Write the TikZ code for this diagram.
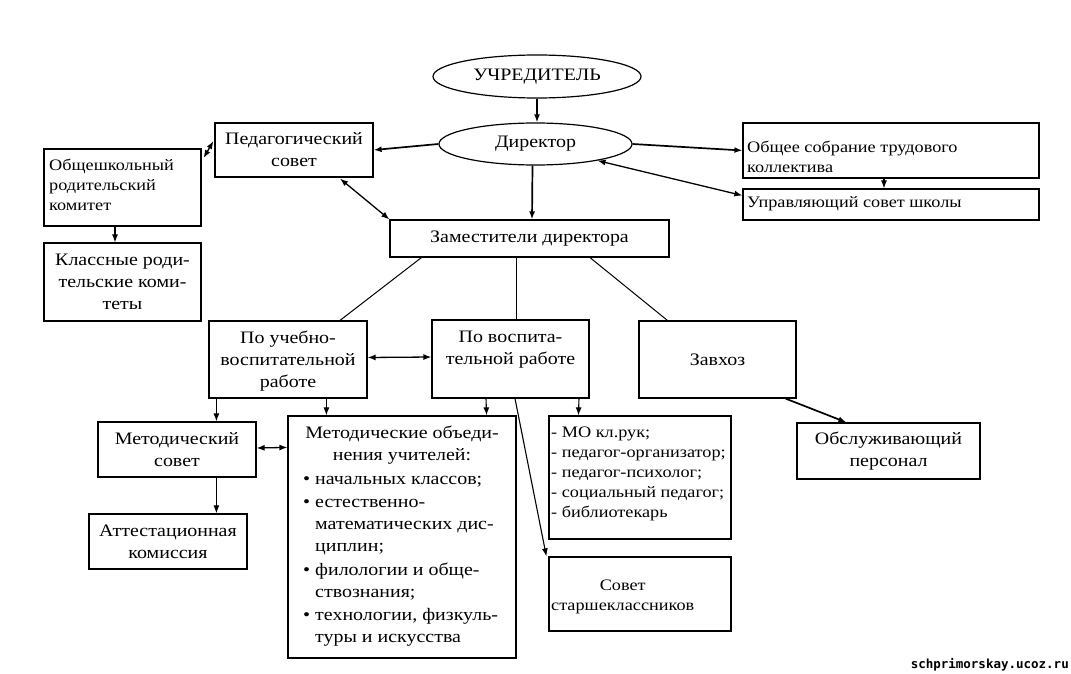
\documentclass[tikz,border=0pt]{standalone}
\usepackage{fontspec}
\setmainfont{Liberation Serif}[FakeStretch=1.14]
\newfontfamily\wmfont{DejaVu Sans Mono}
\usetikzlibrary{arrows.meta,calc,shapes.geometric}
\newcommand\dfont{\fontsize{17.5}{22}\selectfont}
\newcommand\lfont{\fontsize{16}{20}\selectfont}
\begin{document}
\begin{tikzpicture}[x=1pt,y=-1pt,
  box/.style={draw, line width=1.2pt, rectangle, inner sep=0pt, font=\dfont, align=center},
  ell/.style={draw, line width=1.2pt, ellipse, inner sep=0pt, font=\dfont},
  txt/.style={inner sep=0pt, font=\dfont},
  tip/.style={-{Latex[length=8pt,width=6pt]}},
  dtip/.style={{Latex[length=8pt,width=6pt]}-{Latex[length=8pt,width=6pt]}},
  thickarr/.style={tip, line width=1.7pt},
  thinarr/.style={tip, line width=1.1pt},
  dblarr/.style={dtip, line width=1.3pt},
  plain/.style={line width=1pt}]
\useasboundingbox (0,0) rectangle (1071,674);
\fill[white] (0,0) rectangle (1071,674);

% ellipses
\node[ell, minimum width=208, minimum height=43] (uch) at (537,76.5) {УЧРЕДИТЕЛЬ};
\node[ell, minimum width=193, minimum height=42] (dir) at (535.5,144) {Директор};

% upper boxes
\node[box, minimum width=158, minimum height=54] (ped) at (294,150) {Педагогический\\совет};
\node[box, minimum width=157, minimum height=77] (obsh) at (122.5,187.5) {};
\node[txt, anchor=west, align=left, font=\lfont] (obsht) at (49,185) {Общешкольный\\родительский\\комитет};
\node[box, minimum width=157, minimum height=78] (klass) at (122.5,282) {Классные роди-\\тельские коми-\\теты};
\node[box, minimum width=279, minimum height=37] (zam) at (529.5,238.5) {Заместители директора};
\node[box, minimum width=296, minimum height=55] (obsob) at (891,150.5) {};
\node[txt, anchor=west, align=left, font=\lfont] (obsobt) at (747,157) {Общее собрание трудового\\коллектива};
\node[box, minimum width=296, minimum height=31] (upr) at (891,204.5) {};
\node[txt, anchor=west, font=\lfont] (uprt) at (747,204) {Управляющий совет школы};

% middle row
\node[box, minimum width=158, minimum height=77] (pouch) at (288,359.5) {};
\node[txt, align=center] (poucht) at (288,361) {По учебно-\\воспитательной\\работе};
\node[box, minimum width=157, minimum height=78] (povos) at (510.5,359) {};
\node[txt, align=center] (povost) at (510.5,350) {По воспита-\\тельной работе};
\node[box, minimum width=157, minimum height=77] (zavhoz) at (717.5,359.5) {Завхоз};
\node[box, minimum width=183, minimum height=56] (obsl) at (888.5,451) {Обслуживающий\\персонал};

% lower boxes
\node[box, minimum width=158, minimum height=55] (metsov) at (177,449.5) {Методический\\совет};
\node[box, minimum width=158, minimum height=55] (attest) at (168,541.5) {Аттестационная\\комиссия};
\node[box, minimum width=228, minimum height=242] (metob) at (402,537) {};
\node[txt, align=center] (metobh) at (402,445) {Методические объеди-\\нения учителей:};
\node[txt, anchor=north west, align=left] (metobl) at (303,476) {%
\makebox[12pt][l]{\textbullet}начальных классов;\\[1.5pt]
\makebox[12pt][l]{\textbullet}естественно-\\
\hspace*{12pt}математических дис-\\
\hspace*{12pt}циплин;\\[1.5pt]
\makebox[12pt][l]{\textbullet}филологии и обще-\\
\hspace*{12pt}ствознания;\\[1.5pt]
\makebox[12pt][l]{\textbullet}технологии, физкуль-\\
\hspace*{12pt}туры и искусства};
\node[box, minimum width=182, minimum height=123] (mo) at (640,477.5) {};
\node[txt, anchor=north west, align=left, font=\lfont] (mot) at (551,427) {- МО кл.рук;\\- педагог-организатор;\\- педагог-психолог;\\- социальный педагог;\\- библиотекарь};
\node[box, minimum width=182, minimum height=74] (sovet) at (640,594) {};
\node[txt, anchor=west, align=center, font=\lfont] (sovett) at (551,597) {Совет\\старшеклассников};

% watermark
\node[inner sep=0pt, anchor=south east, font=\wmfont\bfseries\fontsize{12.5}{12.5}\selectfont] (wm) at (1069,671) {schprimorskay.ucoz.ru};

% connectors
\draw[thickarr] (uch.south) -- (uch.south |- dir.north);
\draw[thickarr] (dir.west) -- (ped.east);
\draw[thickarr] (dir.east) -- (obsob.west);
\draw[dblarr] (dir.-15) -- ($(upr.west)+(0,-9)$);
\draw[thinarr] ($(obsob.south)+(-7,0)$) -- ($(upr.north)+(-7,0)$);
\draw[dblarr] ($(obsh.east)+(2,-29.5)$) -- ($(ped.west)+(-1,-9)$);
\draw[dblarr] ($(ped.south)+(46,1)$) -- (zam.north west);
\draw[thinarr] ($(obsh.south)+(-7.5,0)$) -- ($(klass.north)+(-7.5,0)$);
\draw[thickarr] ($(dir.south)+(-3,0)$) -- ($(zam.north)+(2.5,0)$);
\draw[plain] ($(zam.south west)+(32,0)$) -- ($(pouch.north)+(52,0)$);
\draw[plain] ($(zam.south)+(-13.5,0)$) -- ($(povos.north)+(5.5,0)$);
\draw[plain] ($(zam.south)+(60.5,0)$) -- ($(zavhoz.north west)+(29,0)$);
\draw[thickarr] ($(zavhoz.south east)+(-11,0)$) -- ($(obsl.north west)+(50,0)$);
\draw[dblarr] ($(pouch.east)+(0,-2)$) -- ($(povos.west)+(0,-2)$);
\draw[thinarr] ($(pouch.south west)+(8,0)$) -- ($(metsov.north west)+(119,0)$);
\draw[thinarr] ($(pouch.south west)+(118,0)$) -- ($(metob.north west)+(39,0)$);
\draw[thinarr] ($(povos.south)+(-24.5,0)$) -- ($(metob.north east)+(-30,0)$);
\draw[thinarr] ($(povos.south)+(68.5,0)$) -- ($(mo.north west)+(30,0)$);
\draw[thinarr] ($(povos.south)+(4.5,0)$) -- ($(sovet.north west)+(-2,0)$);
\draw[dblarr] ($(metsov.east)+(0,-1.5)$) -- ($(metob.north west)+(0,32)$);
\draw[thinarr] ($(metsov.south west)+(119,0)$) -- ($(attest.north west)+(128,0)$);
\end{tikzpicture}
\end{document}
